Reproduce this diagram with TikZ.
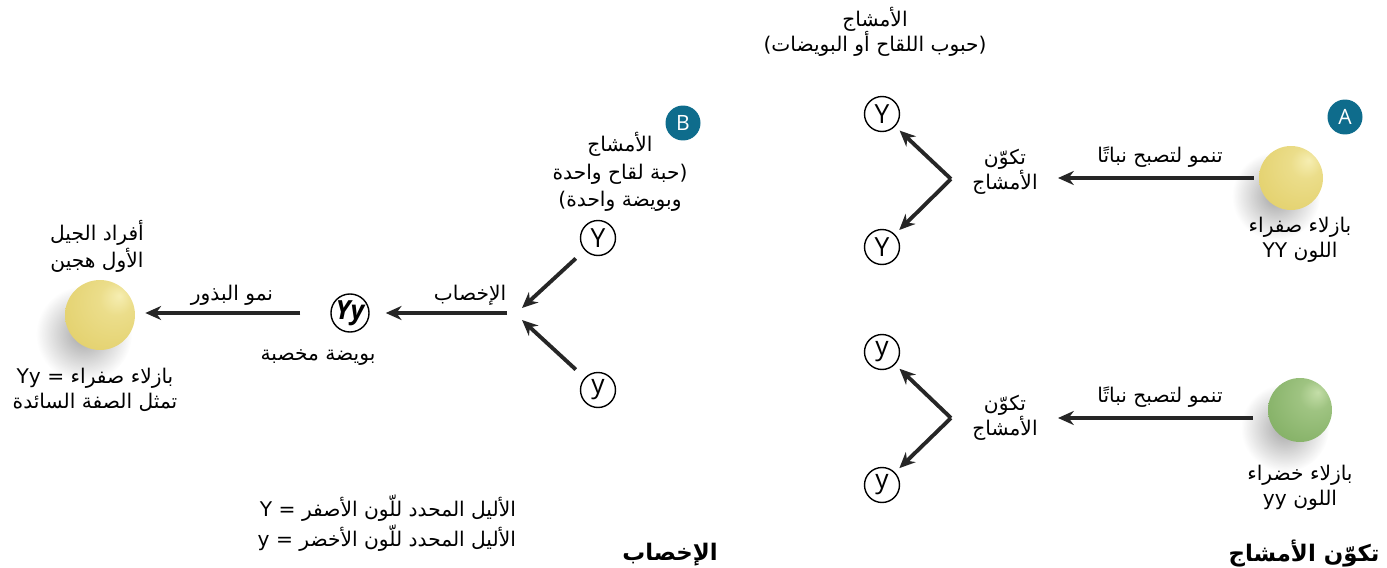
\documentclass[tikz,border=0pt]{standalone}
\usepackage{fontspec}
\setmainfont{Open Sans}
\newfontfamily\arabicfont[Script=Arabic]{DejaVu Sans}
\TeXXeTstate=1
\usetikzlibrary{arrows.meta,fadings}

\definecolor{badgeblue}{RGB}{14,108,140}
\definecolor{pyhi}{RGB}{246,238,178}
\definecolor{pymid}{RGB}{228,210,112}
\definecolor{pylow}{RGB}{184,156,62}
\definecolor{pghi}{RGB}{196,222,168}
\definecolor{pgmid}{RGB}{134,178,104}
\definecolor{pglow}{RGB}{86,128,62}

% pea shadings, light from the upper right
\pgfdeclareradialshading{peayellow}{\pgfpoint{14bp}{14bp}}{%
  color(0bp)=(pyhi); color(12bp)=(pymid!60!pyhi); color(35bp)=(pymid);
  color(58bp)=(pymid!70!pylow); color(70bp)=(pylow)}
\pgfdeclareradialshading{peagreen}{\pgfpoint{14bp}{14bp}}{%
  color(0bp)=(pghi); color(12bp)=(pgmid!60!pghi); color(35bp)=(pgmid);
  color(58bp)=(pgmid!70!pglow); color(70bp)=(pglow)}
\tikzfading[name=peafade, inner color=transparent!35, outer color=transparent!100]

\newcommand{\artext}[1]{\beginR #1\endR}

\tikzset{
  arr/.style={-{Stealth[length=9pt,width=8pt]}, line width=2.2pt, black!85},
  allele/.style={circle, draw, line width=0.8pt, minimum size=0.7cm, inner sep=0pt,
    font=\fontsize{15}{15}\selectfont},
  txt/.style={font=\arabicfont\fontsize{11.5}{14.5}\selectfont, align=center, inner sep=1pt},
  title/.style={font=\arabicfont\bfseries\fontsize{13}{15}\selectfont, inner sep=1pt},
  badge/.style={circle, fill=badgeblue, text=white, minimum size=0.7cm, inner sep=0pt,
    font=\fontsize{12}{12}\selectfont},
  peabody/.style={circle, inner sep=0pt, shading=#1},
  peashadow/.style={black!55, path fading=peafade},
}

\begin{document}
\begin{tikzpicture}[x=0.02cm, y=-0.02cm]
  \useasboundingbox (0,0) rectangle (1387,568);

  % --- gamete formation, yellow parent
  \fill[peashadow] (1276,196) circle (44);
  \node[peabody=peayellow, minimum size=1.28cm] (pYY) at (1291,178) {};
  \node[badge] (bA) at (1345,117) {A};
  \node[txt] (lYY) at (1300,240) {\artext{بازلاء صفراء}\\\artext{اللون YY}};
  \coordinate (fY) at (1058,178);
  \draw[arr, shorten <=1mm] (pYY) -- (fY);
  \node[txt] (tY) at (1160,157) {\artext{تنمو لتصبح نباتًا}};
  \node[txt] (gY) at (1005,172) {\artext{تكوّن}\\\artext{الأمشاج}};
  \node[allele] (Y1) at (882,114) {Y};
  \node[allele] (Y2) at (882,247) {Y};
  \coordinate (vY) at (951,179);
  \draw[arr, shorten >=1.2mm] (vY) -- (Y1);
  \draw[arr, shorten >=1.2mm] (vY) -- (Y2);
  \node[txt] (gam) at (875,32) {\artext{الأمشاج}\\\artext{\mbox{(}حبوب اللقاح أو البويضات\mbox{)}}};

  % --- gamete formation, green parent
  \fill[peashadow] (1285,428) circle (44);
  \node[peabody=peagreen, minimum size=1.28cm] (pyy) at (1300,410) {};
  \node[txt] (lyy) at (1300,488) {\artext{بازلاء خضراء}\\\artext{اللون yy}};
  \coordinate (fy) at (1058,418);
  \draw[arr] ([xshift=-3mm]pyy.west |- fy) -- (fy);
  \node[txt] (ty) at (1160,397) {\artext{تنمو لتصبح نباتًا}};
  \node[txt] (gy) at (1005,418) {\artext{تكوّن}\\\artext{الأمشاج}};
  \node[allele] (y1) at (882,352) {y};
  \node[allele] (y2) at (882,485) {y};
  \coordinate (vy) at (951,418);
  \draw[arr, shorten >=1.2mm] (vy) -- (y1);
  \draw[arr, shorten >=1.2mm] (vy) -- (y2);

  % --- fertilisation
  \node[badge] (bB) at (683,123) {B};
  \node[txt, font=\arabicfont\fontsize{11.5}{15.5}\selectfont] (gam2) at (620,172)
    {\artext{الأمشاج}\\\artext{\mbox{(}حبة لقاح واحدة}\\\artext{وبويضة واحدة\mbox{)}}};
  \node[allele] (Yb) at (598,238) {Y};
  \node[allele] (yb) at (598,390) {y};
  \coordinate (mU) at (522,308);
  \coordinate (mD) at (522,320);
  \coordinate (mC) at (507,313);
  \draw[arr, shorten <=2.4mm] (Yb) -- (mU);
  \draw[arr, shorten <=2.4mm] (yb) -- (mD);
  \node[allele, font=\bfseries\itshape\fontsize{15}{15}\selectfont] (zyg) at (350,313) {Yy};
  \draw[arr, shorten >=3.2mm] (mC) -- (zyg);
  \node[txt] (tf) at (470,295) {\artext{الإخصاب}};
  \node[txt] (lz) at (318,358) {\artext{بويضة مخصبة}};

  % --- first generation
  \fill[peashadow] (84,334) circle (48);
  \node[peabody=peayellow, minimum size=1.4cm] (pF1) at (100,315) {};
  \draw[arr, shorten <=6mm, shorten >=2mm] (zyg) -- (zyg -| pF1.east);
  \node[txt] (ts) at (232,295) {\artext{نمو البذور}};
  \node[txt, font=\arabicfont\fontsize{11.5}{15.5}\selectfont] (lF1a) at (97,246) {\artext{أفراد الجيل}\\\artext{الأول هجين}};
  \node[txt] (lF1b) at (95,390) {\artext{بازلاء صفراء = Yy}\\\artext{تمثل الصفة السائدة}};

  % --- key and captions
  \node[txt, anchor=east] (k1) at (518,508) {\artext{الأليل المحدد للّون الأصفر = Y}};
  \node[txt, anchor=east] (k2) at (518,538) {\artext{الأليل المحدد للّون الأخضر = y}};
  \node[title] (c1) at (670,555) {\artext{الإخصاب}};
  \node[title] (c2) at (1304,553) {\artext{تكوّن الأمشاج}};
\end{tikzpicture}
\end{document}
